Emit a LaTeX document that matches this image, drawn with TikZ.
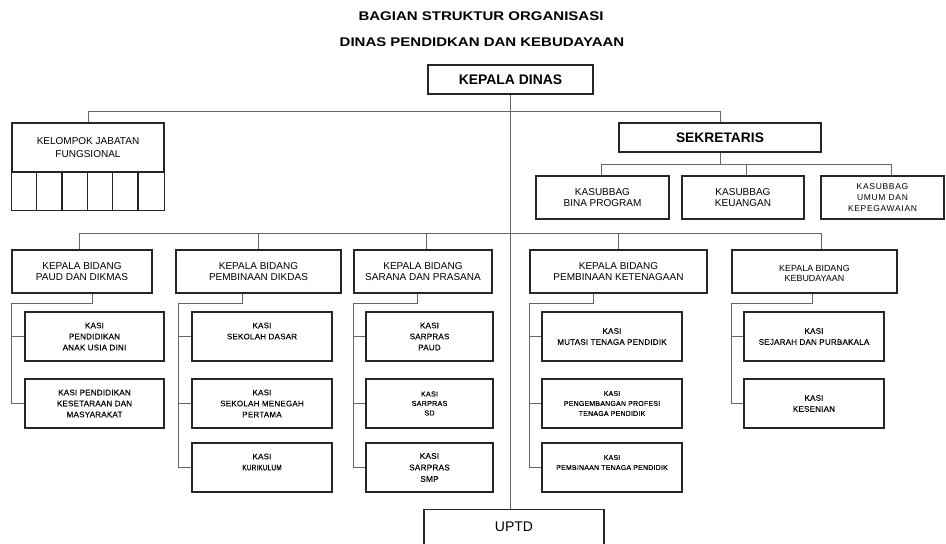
\documentclass[tikz,border=0pt]{standalone}
\usepackage{fontspec}
\usepackage{graphicx}
\setmainfont{Liberation Sans}
\newfontfamily\titlef[FakeStretch=1.19]{Liberation Sans}
\newfontfamily\kasif[LetterSpace=3,FakeBold=0.25]{Liberation Sans}
\newfontfamily\umumf[LetterSpace=8]{Liberation Sans}
\begin{document}
\begin{tikzpicture}[x=1pt,y=-1pt,
  box/.style={draw=black!85,line width=1.2pt,rectangle,inner sep=0pt,align=center,fill=white},
  boxline/.style={draw=black!85,line width=1.2pt},
  conn/.style={draw=black!60,line width=0.8pt},
  titletext/.style={font=\titlef\bfseries\fontsize{12.6}{14}\selectfont},
  sub/.style={box,minimum height=43pt,font=\fontsize{10}{11.7}\selectfont},
  bidang/.style={box,minimum height=43pt,font=\fontsize{10}{11.7}\selectfont},
  kasi/.style={box,minimum height=49pt,font=\kasif\fontsize{8}{11}\selectfont},
  kasismall/.style={box,minimum height=49pt,font=\kasif\fontsize{7}{10}\selectfont}]
\useasboundingbox (0,0) rectangle (946,544);
\clip (0,0) rectangle (946,544);
\fill[white] (0,0) rectangle (946,544);

% titles
\node[titletext] (t1) at (481,16) {BAGIAN STRUKTUR ORGANISASI};
\node[titletext] (t2) at (482,42) {DINAS PENDIDKAN DAN KEBUDAYAAN};

% top level
\node[box,minimum width=165pt,minimum height=29pt,font=\bfseries\fontsize{13.9}{16}\selectfont] (kd) at (510.5,79.5) {KEPALA DINAS};

\node[box,minimum width=152pt,minimum height=49pt,font=\fontsize{10}{12.5}\selectfont] (kjf) at (88,147.5) {KELOMPOK JABATAN\\FUNGSIONAL};
\draw[boxline] (kjf.south west) rectangle ([yshift=-38pt]kjf.south east);
\foreach \i in {1,...,5}
  \draw[boxline] ([xshift=\i*25.333pt]kjf.south west) -- ([xshift=\i*25.333pt,yshift=-38pt]kjf.south west);

\node[box,minimum width=202pt,minimum height=29pt,font=\bfseries\fontsize{13.8}{16}\selectfont] (sek) at (720,137.5) {SEKRETARIS};

\node[sub,minimum width=133pt] (bina) at (602.5,197.5) {KASUBBAG\\BINA PROGRAM};
\node[sub,minimum width=122pt] (keu) at (743,197.5) {KASUBBAG\\KEUANGAN};
\node[sub,minimum width=123pt,font=\umumf\fontsize{8.5}{11}\selectfont] (umum) at (882.5,197.5) {KASUBBAG\\UMUM DAN\\KEPEGAWAIAN};

% bidang
\node[bidang,minimum width=140pt] (paud) at (82,271.5) {KEPALA BIDANG\\PAUD DAN DIKMAS};
\node[bidang,minimum width=165pt] (dikdas) at (258.5,271.5) {KEPALA BIDANG\\PEMBINAAN DIKDAS};
\node[bidang,minimum width=138pt] (sar) at (423,271.5) {KEPALA BIDANG\\SARANA DAN PRASANA};
\node[bidang,minimum width=177pt] (ktn) at (618.5,271.5) {KEPALA BIDANG\\PEMBINAAN KETENAGAAN};
\node[bidang,minimum width=165pt,font=\fontsize{8.9}{10.5}\selectfont] (kbd) at (814.5,271.5) {\mbox{}\\KEPALA BIDANG\\KEBUDAYAAN};

% kasi PAUD
\node[kasi,minimum width=139pt] (pk1) at (94.5,336.5) {KASI\\PENDIDIKAN\\ANAK USIA DINI};
\node[kasi,minimum width=139pt] (pk2) at (94.5,403.5) {KASI PENDIDIKAN\\KESETARAAN DAN\\MASYARAKAT};
% kasi DIKDAS
\node[kasi,minimum width=140pt] (dk1) at (262,336.5) {KASI\\SEKOLAH DASAR\\\mbox{}};
\node[kasi,minimum width=140pt] (dk2) at (262,403.5) {KASI\\SEKOLAH MENEGAH\\PERTAMA};
\node[kasi,minimum width=140pt] (dk3) at (262,467.5) {KASI\\\scalebox{0.8}[1]{KURIKULUM}\\\mbox{}};
% kasi SARANA
\node[kasi,minimum width=127pt] (sk1) at (429.5,336.5) {KASI\\SARPRAS\\PAUD};
\node[kasi,minimum width=127pt,font=\kasif\fontsize{7.2}{9.5}\selectfont] (sk2) at (429.5,403.5) {KASI\\SARPRAS\\SD};
\node[kasi,minimum width=127pt,font=\kasif\fontsize{8.2}{11.5}\selectfont] (sk3) at (429.5,467.5) {KASI\\SARPRAS\\SMP};
% kasi KETENAGAAN
\node[kasi,minimum width=140pt] (tk1) at (612,336.5) {KASI\\MUTASI TENAGA PENDIDIK};
\node[kasismall,minimum width=140pt] (tk2) at (612,403.5) {KASI\\PENGEMBANGAN PROFESI\\TENAGA PENDIDIK};
\node[kasismall,minimum width=140pt] (tk3) at (612,467.5) {KASI\\PEMBINAAN TENAGA PENDIDIK\\\mbox{}};
% kasi KEBUDAYAAN
\node[kasi,minimum width=140pt] (bk1) at (814,336.5) {KASI\\SEJARAH DAN PURBAKALA};
\node[kasi,minimum width=140pt] (bk2) at (814,403.5) {KASI\\KESENIAN};

% UPTD
\node[box,anchor=north,minimum width=180pt,text height=22pt,text depth=40pt,font=\fontsize{14}{16}\selectfont] (uptd) at (514,509) {UPTD};

% connectors
\coordinate (bus1) at (511,111);
\coordinate (bus2) at (720,164);
\coordinate (bus3) at (511,233);

\draw[conn] (kd.south) -- (kd.south |- uptd.north);
\draw[conn] (kjf.north) -- (kjf.north |- bus1) -- (sek.north |- bus1) -- (sek.north);

\draw[conn] (sek.south) -- (sek.south |- bus2);
\draw[conn] ([xshift=-1.5pt]bina.north) -- ([xshift=-1.5pt]bina.north |- bus2) -- ([xshift=8.5pt]umum.north |- bus2) -- ([xshift=8.5pt]umum.north);
\draw[conn] ([xshift=3pt]keu.north) -- ([xshift=3pt]keu.north |- bus2);

\draw[conn] ([xshift=-3pt]paud.north) -- ([xshift=-3pt]paud.north |- bus3) -- ([xshift=6.5pt]kbd.north |- bus3) -- ([xshift=6.5pt]kbd.north);
\draw[conn] (dikdas.north) -- (dikdas.north |- bus3);
\draw[conn] ([xshift=3pt]sar.north) -- ([xshift=3pt]sar.north |- bus3);
\draw[conn] (ktn.north) -- (ktn.north |- bus3);

% PAUD column
\draw[conn] ([xshift=10pt]paud.south) -- ([xshift=10pt,yshift=-10pt]paud.south) -| ([xshift=-13pt]pk2.west) -- (pk2.west);
\draw[conn] ([xshift=-13pt]pk1.west) -- (pk1.west);
% DIKDAS column
\draw[conn] ([xshift=-16.5pt]dikdas.south) -- ([xshift=-16.5pt,yshift=-10pt]dikdas.south) -| ([xshift=-13pt]dk3.west) -- (dk3.west);
\draw[conn] ([xshift=-13pt]dk1.west) -- (dk1.west);
\draw[conn] ([xshift=-13pt]dk2.west) -- (dk2.west);
% SARANA column
\draw[conn] ([xshift=-6pt]sar.south) -- ([xshift=-6pt,yshift=-10pt]sar.south) -| ([xshift=-12pt]sk3.west) -- (sk3.west);
\draw[conn] ([xshift=-12pt]sk1.west) -- (sk1.west);
\draw[conn] ([xshift=-12pt]sk2.west) -- (sk2.west);
% KETENAGAAN column
\draw[conn] ([xshift=-25.5pt]ktn.south) -- ([xshift=-25.5pt,yshift=-10pt]ktn.south) -| ([xshift=-12pt]tk3.west) -- (tk3.west);
\draw[conn] ([xshift=-12pt]tk1.west) -- (tk1.west);
\draw[conn] ([xshift=-12pt]tk2.west) -- (tk2.west);
% KEBUDAYAAN column
\draw[conn] ([xshift=-2.5pt]kbd.south) -- ([xshift=-2.5pt,yshift=-10pt]kbd.south) -| ([xshift=-12pt]bk2.west) -- (bk2.west);
\draw[conn] ([xshift=-12pt]bk1.west) -- (bk1.west);
\end{tikzpicture}
\end{document}
